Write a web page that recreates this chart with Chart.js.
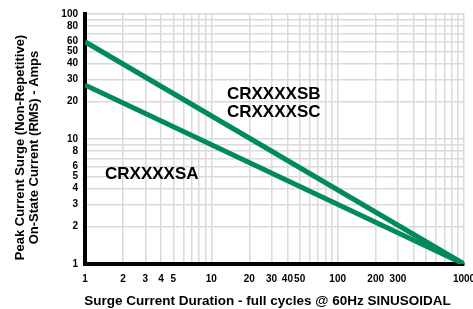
<!DOCTYPE html>
<html>
<head>
<meta charset="utf-8">
<script src="https://cdn.jsdelivr.net/npm/chart.js@4/dist/chart.umd.min.js"></script>
<style>
  html, body { margin: 0; padding: 0; background: #ffffff; }
  #wrap { width: 473px; height: 309px; position: relative; }
</style>
</head>
<body>
<div id="wrap"><canvas id="c" width="473" height="309"></canvas></div>
<script>
// ---- data ----
const durationCycles = [1, 1000];
const currentSBSC = [60, 1];
const currentSA = [27, 1];
const xTickLabels = [1, 2, 3, 4, 5, 10, 20, 30, 40, 50, 100, 200, 300, 1000];
const yTickLabels = [1, 2, 3, 4, 5, 6, 8, 10, 20, 30, 40, 50, 60, 80, 100];
const curveNames = ['CRXXXXSB', 'CRXXXXSC', 'CRXXXXSA'];
const curveNameX = [13.3, 13.3, 1.44];
const curveNameY = [22.9, 16.4, 5.25];
const xTitle = 'Surge Current Duration - full cycles @ 60Hz SINUSOIDAL';
const yTitle = ['Peak Current Surge (Non-Repetitive)', 'On-State Current (RMS) - Amps'];

function logGrid(min, max) {
  const out = [];
  for (let d = min; d < max; d *= 10) {
    for (let m = 1; m < 10; m++) out.push(d * m);
  }
  out.push(max);
  return out;
}

const GREEN = '#008a5e';
const FONT = "'Liberation Sans', Arial, Helvetica, sans-serif";

const textPlugin = {
  id: 'texts',
  afterDraw(chart) {
    const ctx = chart.ctx;
    const xs = chart.scales.x, ys = chart.scales.y;
    ctx.save();
    ctx.fillStyle = '#000';
    ctx.font = 'bold 17px ' + FONT;
    ctx.textAlign = 'left';
    ctx.textBaseline = 'middle';
    curveNames.forEach((t, i) => {
      ctx.fillText(t, xs.getPixelForValue(curveNameX[i]), ys.getPixelForValue(curveNameY[i]));
    });
    // x title
    ctx.font = 'bold 13.5px ' + FONT;
    ctx.textAlign = 'center';
    ctx.textBaseline = 'alphabetic';
    ctx.fillText(xTitle, 267.5, 304.5);
    // y title
    ctx.font = 'bold 13px ' + FONT;
    yTitle.forEach((t, i) => {
      ctx.save();
      ctx.translate(23.5 + i * 14, 147.5);
      ctx.rotate(-Math.PI / 2);
      ctx.fillText(t, 0, 0);
      ctx.restore();
    });
    ctx.restore();
  }
};

new Chart(document.getElementById('c'), {
  type: 'scatter',
  data: {
    datasets: [
      {
        label: 'CRXXXXSB / CRXXXXSC',
        data: durationCycles.map((x, i) => ({ x: x, y: currentSBSC[i] })),
        showLine: true,
        borderColor: GREEN,
        backgroundColor: GREEN,
        borderWidth: 5,
        pointRadius: 0,
        borderCapStyle: 'butt'
      },
      {
        label: 'CRXXXXSA',
        data: durationCycles.map((x, i) => ({ x: x, y: currentSA[i] })),
        showLine: true,
        borderColor: GREEN,
        backgroundColor: GREEN,
        borderWidth: 5,
        pointRadius: 0,
        borderCapStyle: 'butt'
      }
    ]
  },
  options: {
    responsive: false,
    animation: false,
    devicePixelRatio: 1,
    layout: { padding: { top: 14, right: 9, bottom: 0, left: 0 } },
    plugins: { legend: { display: false }, tooltip: { enabled: false } },
    scales: {
      x: {
        type: 'logarithmic',
        min: 1, max: 1000,
        afterBuildTicks(s) { s.ticks = logGrid(1, 1000).map(v => ({ value: v })); },
        afterFit(s) { s.height = 45; s.paddingLeft = 0; s.paddingRight = 0; },
        border: { color: '#000', width: 4 },
        grid: { color: '#dadada', lineWidth: 1.5, drawTicks: false },
        ticks: {
          autoSkip: false, maxRotation: 0, padding: 9, color: '#000',
          font: { family: FONT, size: 10, weight: 'bold' },
          callback(v) { return xTickLabels.includes(v) ? String(v) : ''; }
        }
      },
      y: {
        type: 'logarithmic',
        min: 1, max: 100,
        afterBuildTicks(s) { s.ticks = logGrid(1, 100).map(v => ({ value: v })); },
        afterFit(s) { s.width = 85; s.paddingTop = 0; s.paddingBottom = 0; },
        border: { color: '#000', width: 4 },
        grid: { color: '#dadada', lineWidth: 1.5, drawTicks: false },
        ticks: {
          autoSkip: false, padding: 7, color: '#000',
          font: { family: FONT, size: 10, weight: 'bold' },
          callback(v) { return yTickLabels.includes(v) ? String(v) : ''; }
        }
      }
    }
  },
  plugins: [textPlugin]
});
</script>
</body>
</html>
